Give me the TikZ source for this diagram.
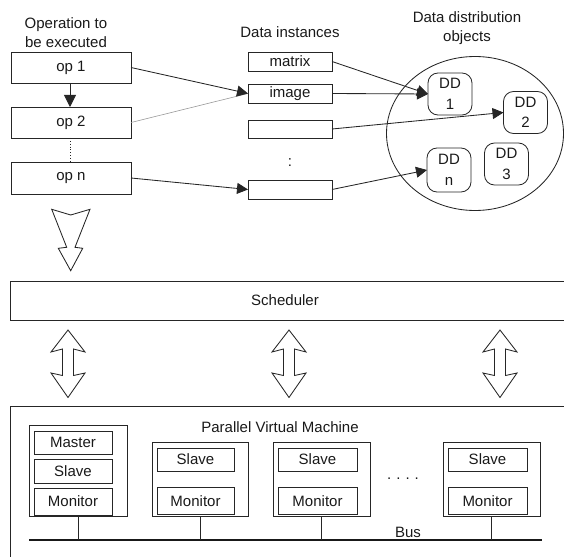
\documentclass[tikz,border=0pt]{standalone}
\usepackage{fontspec}
\setmainfont{Liberation Sans}
\usetikzlibrary{arrows.meta}
\begin{document}
\begin{tikzpicture}[x=1pt,y=-1pt,
  every node/.style={font=\fontsize{15}{19}\selectfont, text=black!90, inner sep=0pt, outer sep=0pt},
  ln/.style={line width=0.85pt, draw=black!85},
  box/.style={ln, draw, rectangle, anchor=center},
  ddbox/.style={ln, draw, rectangle, rounded corners=10pt, align=center, minimum width=44pt, minimum height=42pt, font=\fontsize{15}{20.5}\selectfont},
  tip/.style={-{Triangle[length=11pt,width=11pt]}},
  fatarrow/.style={ln, fill=white, line join=miter}
]
\useasboundingbox (0,0) rectangle (564,556);

% ---------- top: operations ----------
\node[align=center] (tOps) at (66,32.5) {Operation to\\be executed};
\node[box, minimum width=120pt, minimum height=31pt] (op1) at (71,67.5) {op 1};
\node[box, minimum width=120pt, minimum height=31pt] (op2) at (71,122.5) {op 2};
\node[box, minimum width=120pt, minimum height=32pt] (opn) at (71,178) {op n};
\draw[ln, -{Triangle[length=12pt,width=12pt]}] (op1.south -| 70,0) -- (op2.north -| 70,0);
\draw[ln, dotted, line width=1pt] (op2.south -| 70,0) -- (opn.north -| 70,0);

% big down arrow
\draw[fatarrow] (51.7,209.3) -- (70.7,215) -- (90,209.3) -- (75,247.3) -- (82.7,248.3)
  -- (70.7,270.7) -- (58.3,248.3) -- (66.7,247.3) -- cycle;

% ---------- data instances ----------
\node (tData) at (290,32) {Data instances};
\node[box, minimum width=84pt, minimum height=19pt] (matrix) at (290,61.5) {matrix};
\node[box, minimum width=84pt, minimum height=19pt] (image) at (290,93.5) {image};
\node[box, minimum width=84pt, minimum height=18pt] (blank1) at (290,129) {};
\node[box, minimum width=84pt, minimum height=19pt] (blank2) at (290,189.5) {};
\node (vdots) at (290,163) {:};

% ---------- data distribution objects ----------
\node[align=center] (tDD) at (467,28) {Data distribution\\objects};
\draw[ln] (475,133.5) ellipse [x radius=88.5pt, y radius=77pt];
\node[ddbox] (dd1) at (450,94) {DD\\1};
\node[ddbox] (dd2) at (525.5,112.5) {DD\\2};
\node[ddbox] (dd3) at (506.5,164) {DD\\3};
\node[ddbox, minimum height=44pt] (ddn) at (449,170) {DD\\n};

% ---------- connectors ----------
\draw[line width=0.6pt, draw=black!40] (op2.east) -- (image.west);
\draw[ln, tip] (op1.east) -- (image.west);
\draw[ln, tip] (opn.east) -- (blank2.west);
\draw[ln, tip] (matrix.east) -- (dd1.west);
\draw[ln, tip] (image.east) -- (dd1.west);
\draw[ln, tip] (blank1.east) -- (dd2.west);
\draw[ln, tip] (blank2.east) -- (ddn.west);

% ---------- scheduler ----------
\draw[ln] (620,281) -- (10,281) -- (10,320) -- (620,320);
\node (sched) at (285,300.5) {Scheduler};

\foreach \cx in {68,289,500}{
  \draw[fatarrow] (\cx,330) -- (\cx-17,352) -- (\cx-5.5,349) -- (\cx-5.5,375.5) -- (\cx-17,373)
    -- (\cx,397.5) -- (\cx+17,373) -- (\cx+5.5,375.5) -- (\cx+5.5,349) -- (\cx+17,352) -- cycle;
}

% ---------- parallel virtual machine ----------
\draw[ln] (620,406) -- (10,406) -- (10,600);
\node (tPVM) at (280,427) {Parallel Virtual Machine};

% node 1
\node[box, minimum width=98pt, minimum height=91pt] (n1) at (78,470.5) {};
\node[box, minimum width=78pt, minimum height=23pt] (m1) at (73,442.5) {Master};
\node[box, minimum width=78pt, minimum height=24pt] (s1) at (73,471) {Slave};
\node[box, minimum width=78pt, minimum height=27pt] (mo1) at (73,501.5) {Monitor};
% node 2
\node[box, minimum width=96pt, minimum height=74pt] (n2) at (200,479) {};
\node[box, minimum width=77pt, minimum height=23pt] (s2) at (195.5,459.5) {Slave};
\node[box, minimum width=77pt, minimum height=27pt] (mo2) at (195.5,501) {Monitor};
% node 3
\node[box, minimum width=97pt, minimum height=74pt] (n3) at (321.5,479) {};
\node[box, minimum width=79pt, minimum height=23pt] (s3) at (317.5,459.5) {Slave};
\node[box, minimum width=79pt, minimum height=27pt] (mo3) at (317.5,501) {Monitor};
% node 4
\node[box, minimum width=97pt, minimum height=74pt] (n4) at (491.5,479) {};
\node[box, minimum width=79pt, minimum height=23pt] (s4) at (487.5,459.5) {Slave};
\node[box, minimum width=79pt, minimum height=27pt] (mo4) at (487.5,501) {Monitor};

\node (hdots) at (403,479) {.\hspace{5pt}.\hspace{5pt}.\hspace{5pt}.};

% bus
\coordinate (busL) at (29,540);
\coordinate (busR) at (542,540);
\draw[line width=2.6pt, draw=black!90] (busL) -- (busR);
\foreach \n in {n1,n2,n3,n4}{
  \draw[ln] (\n.south) -- (\n.south |- busL);
}
\node (bus) at (408,532) {Bus};
\end{tikzpicture}
\end{document}
